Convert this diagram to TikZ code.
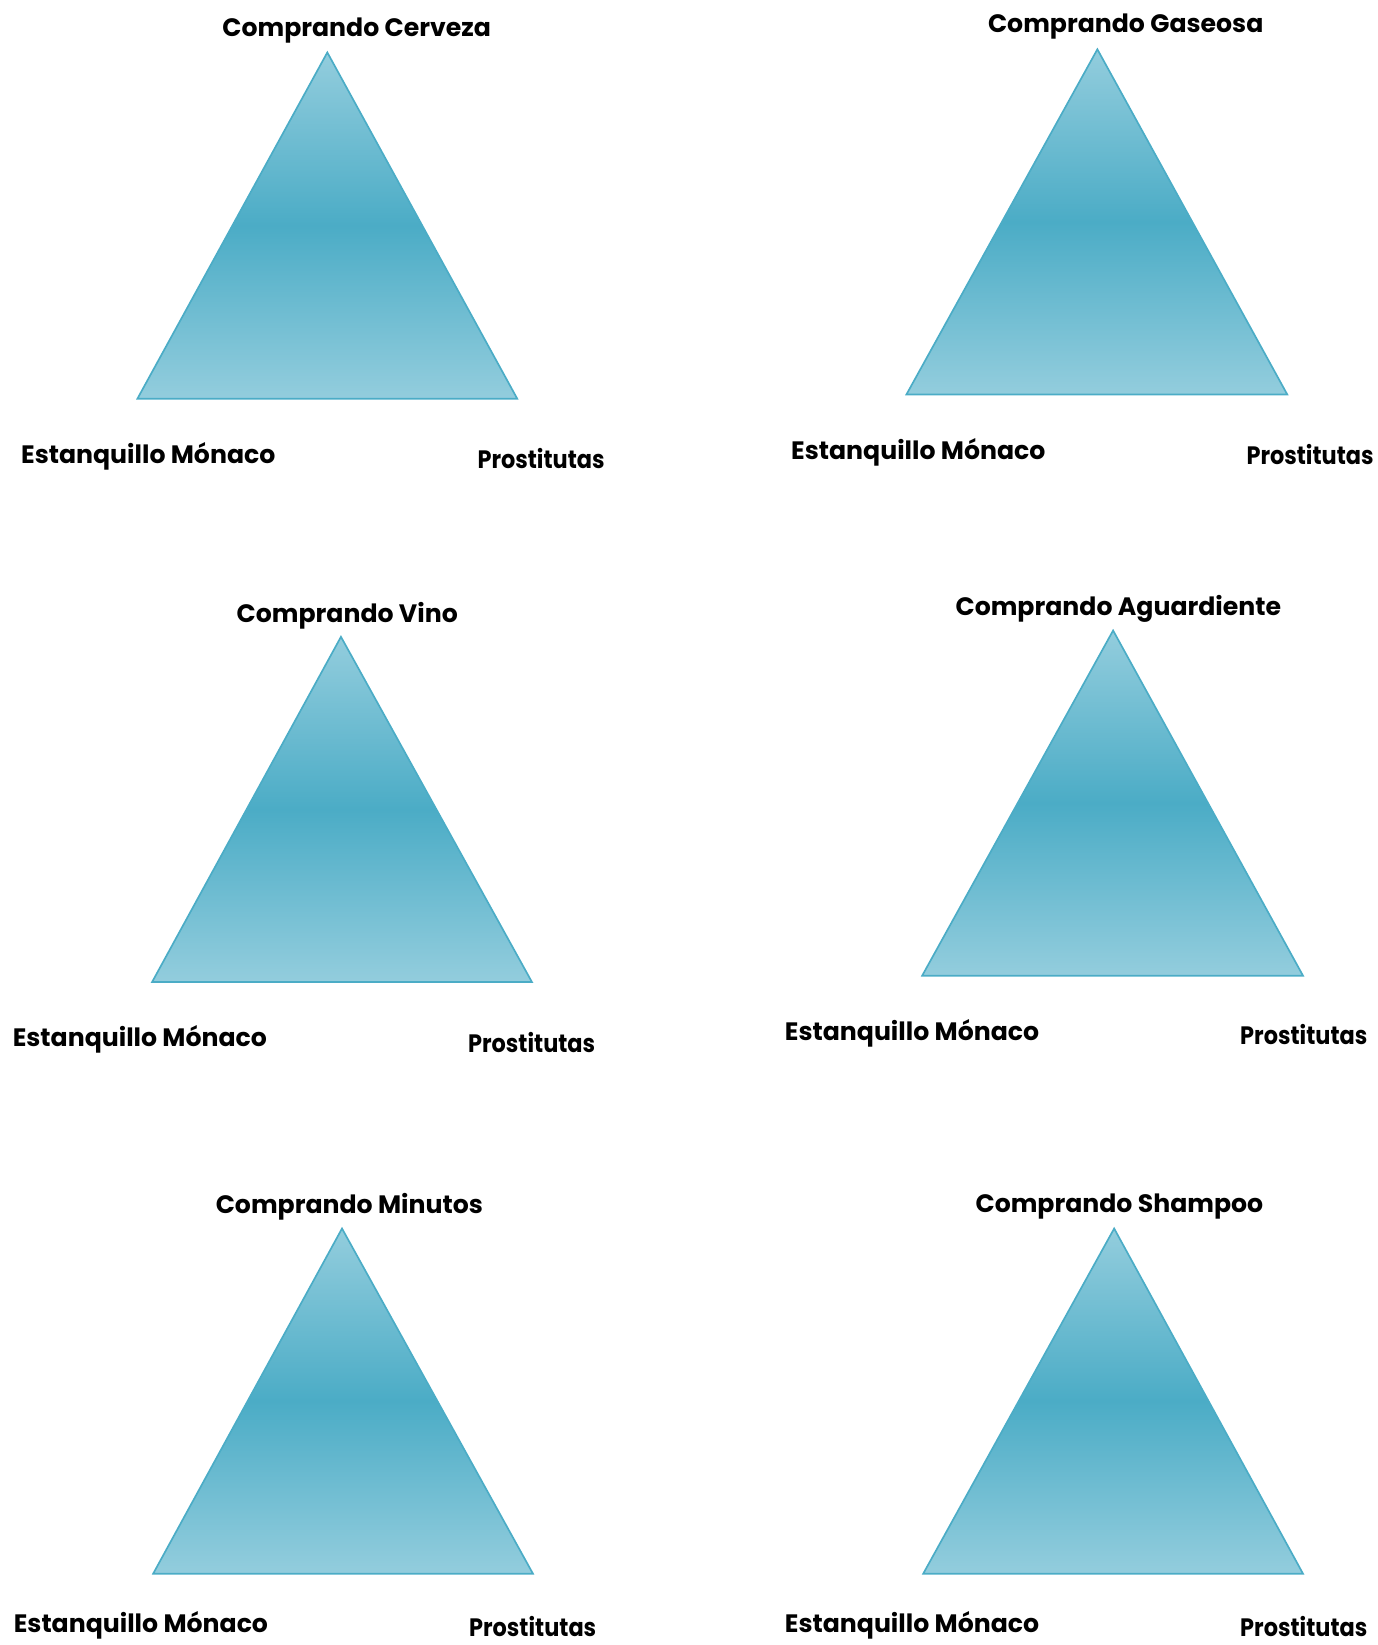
\documentclass[tikz,border=0pt]{standalone}
\usepackage{fontspec}
\setmainfont{Poppins}
\definecolor{trilight}{HTML}{93CDDD}
\definecolor{tridark}{HTML}{4BACC6}
\definecolor{triline}{HTML}{4BACC6}
\tikzset{
  tri/.style={draw=triline, line width=1.6pt, top color=trilight, bottom color=trilight, middle color=tridark},
  lbl/.style={font=\fontsize{24}{28}\selectfont\bfseries, text=black, inner sep=0pt, yshift=-3pt},
  lblp/.style={lbl, anchor=west, xscale=0.89},
}
\begin{document}
\begin{tikzpicture}[x=1pt,y=-1pt]
\useasboundingbox (0,0) rectangle (1313,1568);
% Panel 1
\coordinate (a1) at (312,50); \coordinate (l1) at (131,380); \coordinate (r1) at (493,380);
\shadedraw[tri] (a1) -- (r1) -- (l1) -- cycle;
\node[lbl] (t1) at (340,26) {Comprando Cerveza};
\node[lbl,anchor=west] (e1) at (20,432) {Estanquillo Mónaco};
\node[lblp] (p1) at (455,434) {Prostitutas};
% Panel 2
\coordinate (a2) at (1046,47); \coordinate (l2) at (864,376); \coordinate (r2) at (1227,376);
\shadedraw[tri] (a2) -- (r2) -- (l2) -- cycle;
\node[lbl] (t2) at (1073,22) {Comprando Gaseosa};
\node[lbl,anchor=west] (e2) at (754,428) {Estanquillo Mónaco};
\node[lblp] (p2) at (1188,430) {Prostitutas};
% Panel 3
\coordinate (a3) at (325,607); \coordinate (l3) at (145,936); \coordinate (r3) at (507,936);
\shadedraw[tri] (a3) -- (r3) -- (l3) -- cycle;
\node[lbl] (t3) at (331,584) {Comprando Vino};
\node[lbl,anchor=west] (e3) at (12,988) {Estanquillo Mónaco};
\node[lblp] (p3) at (446,991) {Prostitutas};
% Panel 4
\coordinate (a4) at (1061,601); \coordinate (l4) at (879,930); \coordinate (r4) at (1242,930);
\shadedraw[tri] (a4) -- (r4) -- (l4) -- cycle;
\node[lbl] (t4) at (1066,577) {Comprando Aguardiente};
\node[lbl,anchor=west] (e4) at (748,982) {Estanquillo Mónaco};
\node[lblp] (p4) at (1182,983) {Prostitutas};
% Panel 5
\coordinate (a5) at (326,1171); \coordinate (l5) at (146,1500); \coordinate (r5) at (508,1500);
\shadedraw[tri] (a5) -- (r5) -- (l5) -- cycle;
\node[lbl] (t5) at (333,1147) {Comprando Minutos};
\node[lbl,anchor=west] (e5) at (13,1546) {Estanquillo Mónaco};
\node[lblp] (p5) at (447,1547) {Prostitutas};
% Panel 6
\coordinate (a6) at (1062,1171); \coordinate (l6) at (880,1500); \coordinate (r6) at (1242,1500);
\shadedraw[tri] (a6) -- (r6) -- (l6) -- cycle;
\node[lbl] (t6) at (1067,1147) {Comprando Shampoo};
\node[lbl,anchor=west] (e6) at (748,1546) {Estanquillo Mónaco};
\node[lblp] (p6) at (1182,1547) {Prostitutas};
\end{tikzpicture}
\end{document}
